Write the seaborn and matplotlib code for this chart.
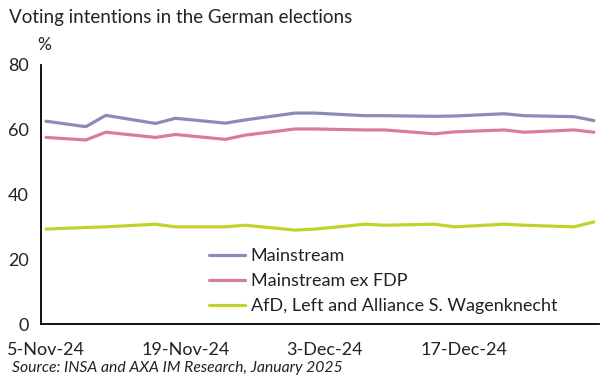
import matplotlib
matplotlib.use("Agg")
import matplotlib.pyplot as plt
import seaborn as sns
import pandas as pd

dates = ["2024-11-05", "2024-11-09", "2024-11-11", "2024-11-16", "2024-11-18",
         "2024-11-23", "2024-11-25", "2024-11-30", "2024-12-02", "2024-12-07",
         "2024-12-09", "2024-12-14", "2024-12-16", "2024-12-21", "2024-12-23",
         "2024-12-28", "2024-12-30"]
mainstream = [62.6, 60.9, 64.4, 61.9, 63.5, 62.0, 63.0, 65.1, 65.1, 64.3,
              64.3, 64.1, 64.2, 64.9, 64.3, 64.0, 62.8]
mainstream_ex_fdp = [57.6, 56.8, 59.2, 57.6, 58.5, 57.0, 58.3, 60.2, 60.2, 59.9,
                     59.9, 58.7, 59.3, 59.9, 59.2, 59.9, 59.2]
afd_left_bsw = [29.3, 29.8, 30.0, 30.8, 30.0, 30.0, 30.5, 29.0, 29.3, 30.8,
                30.5, 30.8, 30.0, 30.8, 30.5, 30.0, 31.5]
series_names = ["Mainstream", "Mainstream ex FDP", "AfD, Left and Alliance S. Wagenknecht"]
colors = ["#8C8AB9", "#D97B9C", "#C3D12B"]
xtick_labels = ["5-Nov-24", "19-Nov-24", "3-Dec-24", "17-Dec-24"]
xtick_dates = ["2024-11-05", "2024-11-19", "2024-12-03", "2024-12-17"]
yticks = [0, 20, 40, 60, 80]

sns.set_style("white")
plt.rcParams["font.family"] = ["Lato", "DejaVu Sans"]

d = pd.to_datetime(dates)
df = pd.concat([
    pd.DataFrame({"date": d, "value": v, "series": n})
    for v, n in zip([mainstream, mainstream_ex_fdp, afd_left_bsw], series_names)
])

fig = plt.figure(figsize=(6.15, 3.79), dpi=100)
ax = fig.add_axes([0.0667, 0.145, 0.907, 0.684])
sns.lineplot(data=df, x="date", y="value", hue="series", hue_order=series_names,
             palette=colors, linewidth=2.3, ax=ax)

start = pd.Timestamp("2024-11-05")
end = pd.Timestamp("2024-12-30")
half = pd.Timedelta(hours=12)
ax.set_xlim(start - half, end + half)
ax.set_ylim(0, 80)
ax.set_yticks(yticks)
ax.set_yticklabels([str(t) for t in yticks], fontsize=13, color="#222222")

ax.set_xticks(pd.to_datetime(xtick_dates))
ax.set_xticklabels(xtick_labels, fontsize=13, color="#222222")
ax.tick_params(axis="x", which="major", length=0, pad=13)
minor = pd.date_range(start - half, end + half, freq="D")
ax.set_xticks(minor, minor=True)
ax.tick_params(axis="x", which="minor", direction="in", length=4, width=1, color="black")
ax.tick_params(axis="y", direction="in", length=4, width=1, color="black", pad=9)

for s in ["top", "right"]:
    ax.spines[s].set_visible(False)
for s in ["left", "bottom"]:
    ax.spines[s].set_color("black")
    ax.spines[s].set_linewidth(1.3)

ax.set_xlabel("")
ax.set_ylabel("")
leg = ax.legend(loc="lower left", bbox_to_anchor=(0.272, -0.025), frameon=False,
                fontsize=13, handlelength=2.0, labelspacing=0.5, handletextpad=0.3)
for t in leg.get_texts():
    t.set_color("#222222")

fig.text(0.015, 0.955, "Voting intentions in the German elections", fontsize=13.5,
         color="#222222", va="center", ha="left")
fig.text(0.06, 0.88, "%", fontsize=12.5, color="#222222", va="center", ha="left")
fig.text(0.02, 0.03, "Source: INSA and AXA IM Research, January 2025", fontsize=11.3,
         style="italic", color="#222222", va="center", ha="left")

fig.savefig("out.png", dpi=100)
